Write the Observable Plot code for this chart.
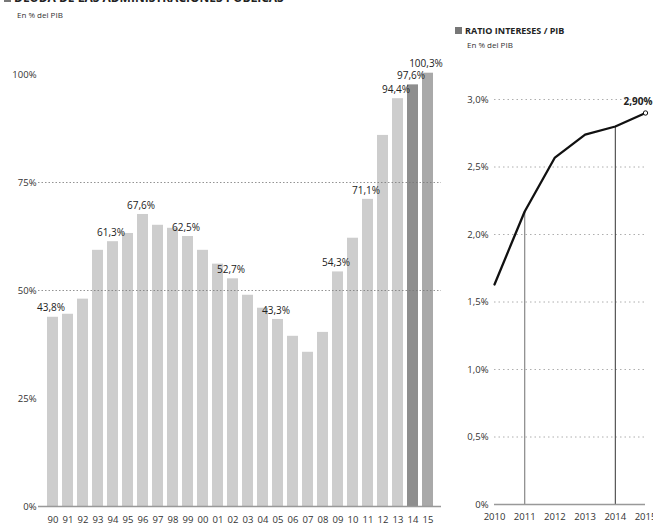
<!DOCTYPE html>
<html>
<head>
<meta charset="utf-8">
<script src="https://cdn.jsdelivr.net/npm/d3@7"></script>
<script src="https://cdn.jsdelivr.net/npm/@observablehq/plot@0.6"></script>
<style>
  html, body { margin: 0; padding: 0; background: #fff; }
  #wrap { position: relative; width: 653px; height: 526px; overflow: hidden; font-family: "Open Sans", sans-serif; color: #222; }
  .title { position: absolute; font-weight: 700; white-space: nowrap; }
  .sub { position: absolute; font-size: 8px; color: #333; white-space: nowrap; }
  .ico { display: inline-block; width: 7px; height: 7px; background: #777; margin-right: 3px; vertical-align: 0px; }
  #left { position: absolute; left: 0; top: 0; }
  #right { position: absolute; left: 455px; top: 0; }
</style>
</head>
<body>
<div id="wrap">
  <div class="title" style="left:4px; top:-11px; font-size:12px;"><span class="ico"></span>DEUDA DE LAS ADMINISTRACIONES PÚBLICAS</div>
  <div class="sub" style="left:17px; top:9px;">En % del PIB</div>
  <div class="title" style="left:455px; top:24px; font-size:9px;"><span class="ico"></span>RATIO INTERESES / PIB</div>
  <div class="sub" style="left:467px; top:39px;">En % del PIB</div>
  <div id="left"></div>
  <div id="right"></div>
</div>
<script>
// Deuda pública (% del PIB)
const years = ["90","91","92","93","94","95","96","97","98","99","00","01","02","03","04","05","06","07","08","09","10","11","12","13","14","15"];
const deuda = [43.8, 44.5, 48.0, 59.3, 61.3, 63.2, 67.6, 65.1, 64.4, 62.5, 59.3, 56.1, 52.7, 48.9, 45.9, 43.3, 39.4, 35.7, 40.3, 54.3, 62.1, 71.1, 85.9, 94.4, 97.6, 100.3];
const labeledYears = ["90","94","96","99","02","05","09","11","13","14","15"];
const highlightYears = ["14","15"];
const yTicksLeft = [0, 25, 50, 75, 100];
const gridLeft = [50, 75];

// Ratio intereses / PIB
const ratioYears = [2010, 2011, 2012, 2013, 2014, 2015];
const ratio = [1.63, 2.17, 2.57, 2.74, 2.80, 2.90];
const dropYears = [2011, 2014];
const yTicksRight = [0, 0.5, 1.0, 1.5, 2.0, 2.5, 3.0];

const comma = v => String(v).replace(".", ",");
const fmt1 = v => v.toFixed(1).replace(".", ",") + "%";

const debtData = years.map((y, i) => ({year: y, value: deuda[i]}));
const labelData = debtData.filter(d => labeledYears.includes(d.year));
const barColor = d => d.year === "14" ? "#8e8e8e" : d.year === "15" ? "#a9a9a9" : "#cdcdcd";

const left = Plot.plot({
  width: 455, height: 526,
  marginLeft: 38, marginRight: 14, marginTop: 74, marginBottom: 20,
  style: {fontFamily: "Open Sans, sans-serif", fontSize: "9.5px", color: "#333", background: "transparent"},
  x: {domain: years, padding: 0.28, align: 0.5},
  y: {domain: [0, 100]},
  marks: [
    Plot.barY(debtData, {x: "year", y: "value", fill: barColor}),
    Plot.ruleY(gridLeft, {stroke: "#777", strokeWidth: 0.8, strokeDasharray: "1.5,2"}),
    Plot.ruleY([0], {stroke: "#999", strokeWidth: 1.5}),
    Plot.text(labelData, {
      x: "year", y: "value", dy: -9, dx: -2,
      text: d => comma(d.value.toFixed(1)) + "%",
      fontSize: 10,
      fontWeight: d => highlightYears.includes(d.year) || d.year === "13" ? 700 : 400,
      fill: "#222"
    }),
    Plot.axisY({ticks: yTicksLeft, tickSize: 0, tickPadding: 2, tickFormat: d => d + "%", label: null}),
    Plot.axisX({tickSize: 0, tickPadding: 10, label: null})
  ]
});
document.getElementById("left").appendChild(left);

const ratioData = ratioYears.map((y, i) => ({year: y, value: ratio[i]}));
const dropData = ratioData.filter(d => dropYears.includes(d.year));
const lastPoint = ratioData.slice(-1);

const right = Plot.plot({
  width: 198, height: 526,
  marginLeft: 39, marginRight: 8, marginTop: 99, marginBottom: 22,
  style: {fontFamily: "Open Sans, sans-serif", fontSize: "9.5px", color: "#333", background: "transparent", overflow: "visible"},
  x: {domain: [2010, 2015]},
  y: {domain: [0, 3]},
  marks: [
    Plot.ruleY(yTicksRight.filter(d => d > 0), {stroke: "#999", strokeWidth: 0.8, strokeDasharray: "1.5,3"}),
    Plot.ruleX(dropData, {x: "year", y1: 0, y2: "value",
      stroke: d => d.year === 2014 ? "#333" : "#888",
      strokeWidth: d => d.year === 2014 ? 1 : 1.2,
      strokeDasharray: d => d.year === 2014 ? null : "1.5,1"}),
    Plot.ruleY([0], {stroke: "#999", strokeWidth: 1.5}),
    Plot.line(ratioData, {x: "year", y: "value", stroke: "#111", strokeWidth: 2.3}),
    Plot.dot(lastPoint, {x: "year", y: "value", r: 2.2, fill: "#fff", stroke: "#111", strokeWidth: 1}),
    Plot.text(lastPoint, {x: "year", y: "value", text: d => d.value.toFixed(2).replace(".", ",") + "%",
      textAnchor: "end", dx: 7, dy: -11, fontWeight: 700, fontSize: 10, fill: "#222"}),
    Plot.axisY({ticks: yTicksRight, tickSize: 0, tickPadding: 6, tickFormat: d => d === 0 ? "0%" : fmt1(d), label: null}),
    Plot.axisX({ticks: ratioYears, tickSize: 0, tickPadding: 9, tickFormat: d => String(d), label: null})
  ]
});
document.getElementById("right").appendChild(right);
</script>
</body>
</html>
